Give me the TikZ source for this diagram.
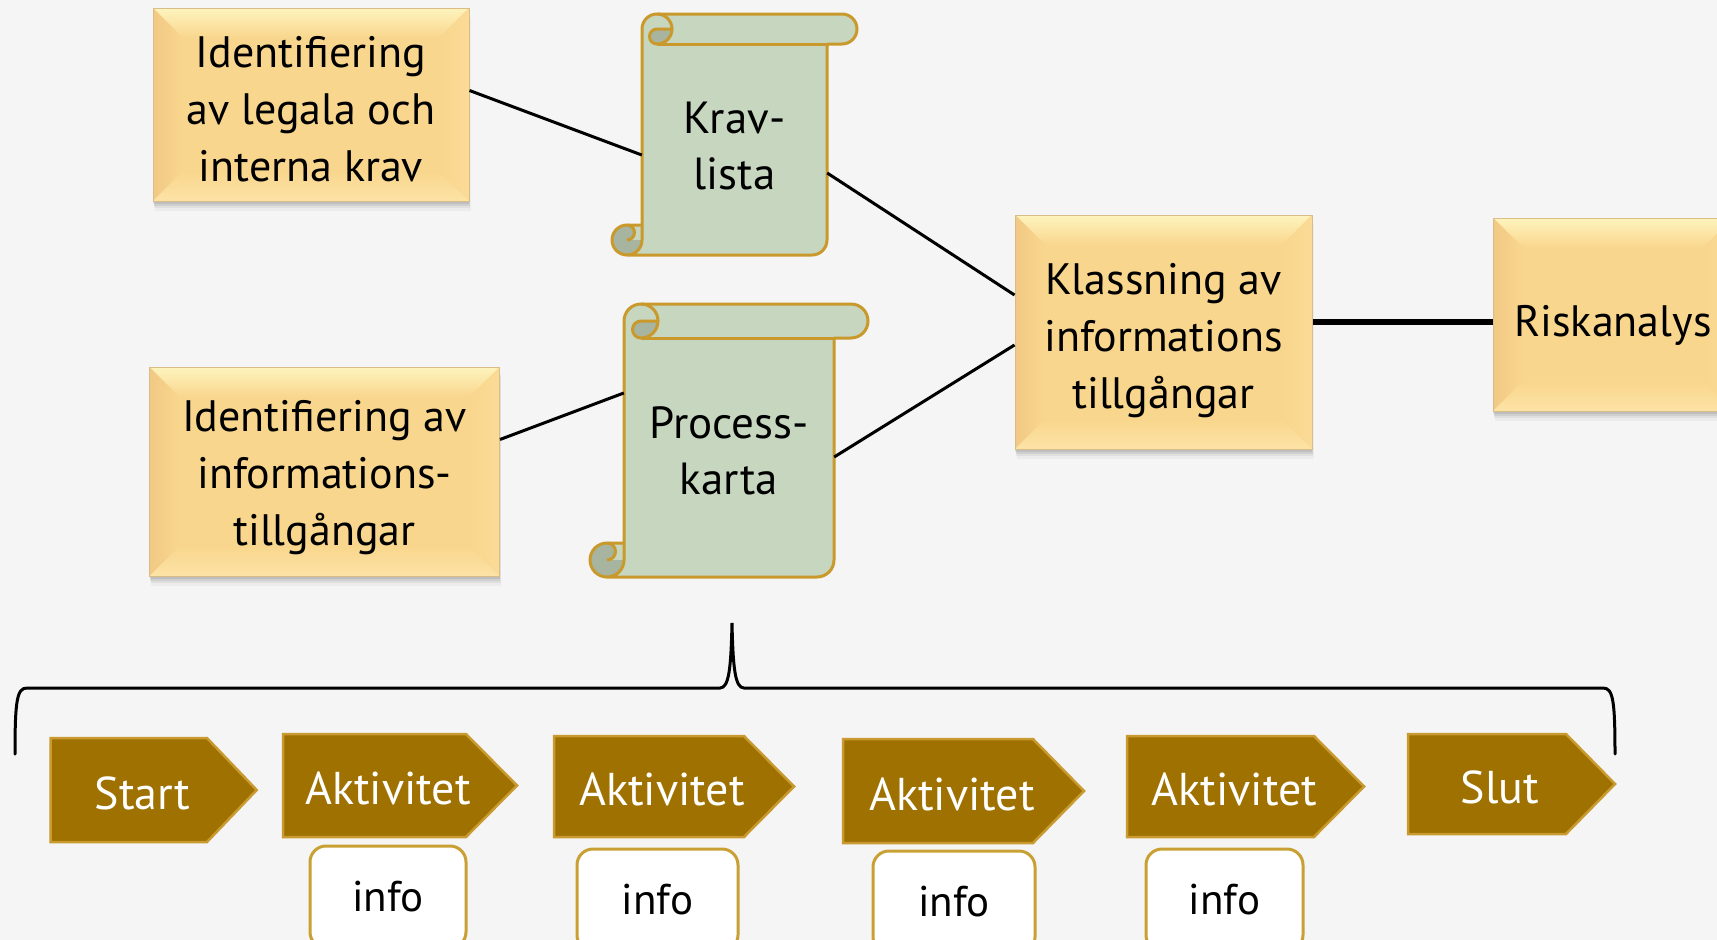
\documentclass[tikz,border=0pt]{standalone}
\usepackage{fontspec}
\setmainfont{PT Sans}
\usetikzlibrary{calc,shadows}
\definecolor{bg}{HTML}{F5F5F5}
\definecolor{goldmid}{HTML}{F9D68D}
\definecolor{goldtop}{HTML}{FEF4BE}
\definecolor{goldleft}{HTML}{F1C985}
\definecolor{goldright}{HTML}{FADB97}
\definecolor{goldbot}{HTML}{FCE3A6}
\definecolor{goldedge}{HTML}{D8BE86}
\definecolor{scrollfill}{HTML}{C6D6BF}
\definecolor{scrolldark}{HTML}{A7B4A0}
\definecolor{scrollline}{HTML}{C9992B}
\definecolor{chevfill}{HTML}{9E7100}
\definecolor{chevline}{HTML}{C89A30}
\definecolor{infoline}{HTML}{C9A034}
\newcommand\boxfont{\fontsize{44}{57}\selectfont}
\newcommand\scrollfont{\fontsize{45}{56}\selectfont}
\newcommand\chevfont{\fontsize{46}{50}\selectfont}
\newcommand\infofont{\fontsize{43}{48}\selectfont}
\tikzset{
  goldbox/.style 2 args={rectangle, minimum width=#1, minimum height=#2,
    inner sep=0pt, fill=goldmid, draw=goldedge, line width=1pt,
    general shadow={fill=black, opacity=0.035, shadow xshift=1.5pt, shadow yshift=-10pt},
    general shadow={fill=black, opacity=0.05, shadow xshift=1pt, shadow yshift=-7pt},
    general shadow={fill=black, opacity=0.07, shadow xshift=0.5pt, shadow yshift=-4.5pt},
    general shadow={fill=black, opacity=0.08, shadow yshift=-2.5pt},
    path picture={
      \coordinate (pnw) at (path picture bounding box.north west);
      \coordinate (pne) at (path picture bounding box.north east);
      \coordinate (psw) at (path picture bounding box.south west);
      \coordinate (pse) at (path picture bounding box.south east);
      \fill[top color=goldtop, bottom color=goldmid] (pnw) -- (pne) -- ($(pne)+(-30,30)$) -- ($(pnw)+(30,30)$) -- cycle;
      \fill[left color=goldleft, right color=goldmid] (pnw) -- ($(pnw)+(30,30)$) -- ($(psw)+(30,-30)$) -- (psw) -- cycle;
      \fill[left color=goldmid, right color=goldright] (pne) -- ($(pne)+(-30,30)$) -- ($(pse)+(-30,-30)$) -- (pse) -- cycle;
      \fill[top color=goldmid, bottom color=goldbot] (psw) -- ($(psw)+(30,-30)$) -- ($(pse)+(-30,-30)$) -- (pse) -- cycle;
    }},
  boxtext/.style={inner sep=0pt, align=center, font=\boxfont},
  scrolltext/.style={inner sep=0pt, align=center, font=\scrollfont, minimum width=#1},
  conn/.style={line width=3pt, black},
  thickconn/.style={line width=6pt, black},
  chevstyle/.style={fill=chevfill, draw=chevline, line width=2.5pt, line join=miter},
  chevtext/.style={inner sep=0pt, text=white, font=\chevfont},
  infobox/.style={rectangle, rounded corners=16pt, fill=white, draw=infoline,
    line width=3pt, minimum width=#1, minimum height=102pt, inner sep=0pt, font=\infofont},
  bracestyle/.style={line width=3pt, black, line cap=round}
}
\newcommand\drawscroll[5]{%
  \begin{scope}[shift={(#1,#2)}]
    \pgfmathsetmacro\scW{#3}\pgfmathsetmacro\scH{#4}\pgfmathsetmacro\scC{#5}%
    \pgfmathsetmacro\scCh{#5/2}\pgfmathsetmacro\scCq{#5/4}%
    \def\scrollpath{(\scCh,\scH) arc[start angle=90,end angle=0,radius=\scCh]
      -- (\scC,\scCh) arc[start angle=180,end angle=270,radius=\scCh]
      -- ({\scW-\scCh},0) arc[start angle=270,end angle=450,radius=\scCh]
      -- ({\scW-\scC},\scC) -- ({\scW-\scC},{\scH-\scCh})
      arc[start angle=0,end angle=90,radius=\scCh] -- cycle}%
    \fill[scrollfill] \scrollpath;
    \fill[scrolldark] (\scCh,{\scH-\scCh}) circle[radius=\scCh];
    \fill[scrollfill] (\scCh,{\scH-\scC}) rectangle (\scC,{\scH-\scCh});
    \fill[scrolldark] (\scCh,{\scH-3*\scCq}) circle[radius=\scCq];
    \draw[scrollline, line width=3pt, line join=round] \scrollpath;
    \draw[scrollline, line width=3pt, fill=scrolldark, line join=round]
      ({2*\scC},\scCh) arc[start angle=0,end angle=90,radius=\scCh]
      arc[start angle=90,end angle=270,radius=\scCq] -- cycle;
    \draw[scrollline, line width=3pt] ({1.5*\scC},0) arc[start angle=-90,end angle=0,radius=\scCh];
    \draw[scrollline, line width=3pt] ({1.5*\scC},\scC) -- ({\scW-\scC},\scC);
    \draw[scrollline, line width=3pt, line join=round] (\scC,{\scH-\scC}) -- (\scCh,{\scH-\scC})
      arc[start angle=270,end angle=90,radius=\scCh];
    \draw[scrollline, line width=3pt] (\scCh,{\scH-\scC}) arc[start angle=270,end angle=450,radius=\scCq];
  \end{scope}}
\newcommand\chev[8]{%
  \draw[chevstyle] (#2,#3) -- (#6,#3) -- (#4,{(#3+#5)/2}) -- (#6,#5) -- (#2,#5) -- cycle;
  \node[chevtext] (#1) at (#7,{(#3+#5)/2+3}) {#8};}
\begin{document}
\begin{tikzpicture}[x=1pt,y=-1pt]
\useasboundingbox (0,0) rectangle (1717,940);
\clip (0,0) rectangle (1717,940);
\fill[bg] (0,0) rectangle (1717,940);

% gold boxes
\node[goldbox={316pt}{193pt}] (legal) at (311,104.5) {};
\node[goldbox={350pt}{209pt}] (assets) at (324.5,471.5) {};
\node[goldbox={297pt}{234pt}] (klass) at (1163.5,332) {};
\node[goldbox={240pt}{193pt}] (risk) at (1613,314.5) {};
\node[boxtext] (legaltext) at (311,109) {Identifiering\\av legala och\\interna krav};
\node[boxtext] (assetstext) at (324.5,478) {Identifiering av\\informations-\\tillgångar};
\node[boxtext] (klasstext) at (1163.5,341) {Klassning av\\informations\\tillgångar};
\node[boxtext] (risktext) at (1613,325) {Riskanalys};

% scrolls
\drawscroll{612}{14}{245}{241}{30}
\drawscroll{590}{304}{278}{273}{34}
\node[scrolltext=185pt] (krav) at (734.5,146) {Krav-\\lista};
\node[scrolltext=210pt] (process) at (729,451) {Process-\\karta};

% connectors
\draw[conn] ([yshift=14pt]legal.east) -- ([yshift=-9pt]krav.west);
\draw[conn] ([yshift=-27pt]krav.east) -- ([yshift=37pt]klass.west);
\draw[conn] ([yshift=32pt]assets.east) -- ([yshift=58pt]process.west);
\draw[conn] ([yshift=-6pt]process.east) -- ([yshift=-13pt]klass.west);
\draw[thickconn] ([yshift=10pt]klass.east) -- ([yshift=10pt]klass.east -| risk.west);

% brace
\draw[bracestyle] (15,754) .. controls (15,700) and (17,688) .. (27,688)
  -- (720,688) .. controls (729,688) and (731,668) .. (732,623)
  .. controls (733,668) and (735,688) .. (744,688)
  -- (1603,688) .. controls (1613,688) and (1615,700) .. (1615,754);

% process steps
\chev{start}{50.5}{738}{256.7}{842}{207}{142.5}{Start}
\chev{akt1}{283}{734}{517}{837}{466}{388}{Aktivitet}
\chev{akt2}{554}{736}{794}{837}{744}{662}{Aktivitet}
\chev{akt3}{843}{739}{1084}{843}{1033}{952}{Aktivitet}
\chev{akt4}{1127}{736}{1364}{837}{1314}{1234.5}{Aktivitet}
\chev{slut}{1408}{734}{1615}{834}{1566}{1500}{Slut}

% info boxes
\node[infobox=156pt] (info1) at (388,897) {info};
\node[infobox=161pt] (info2) at (657.5,900) {info};
\node[infobox=162pt] (info3) at (954,902) {info};
\node[infobox=157pt] (info4) at (1224.5,900) {info};
\end{tikzpicture}
\end{document}
